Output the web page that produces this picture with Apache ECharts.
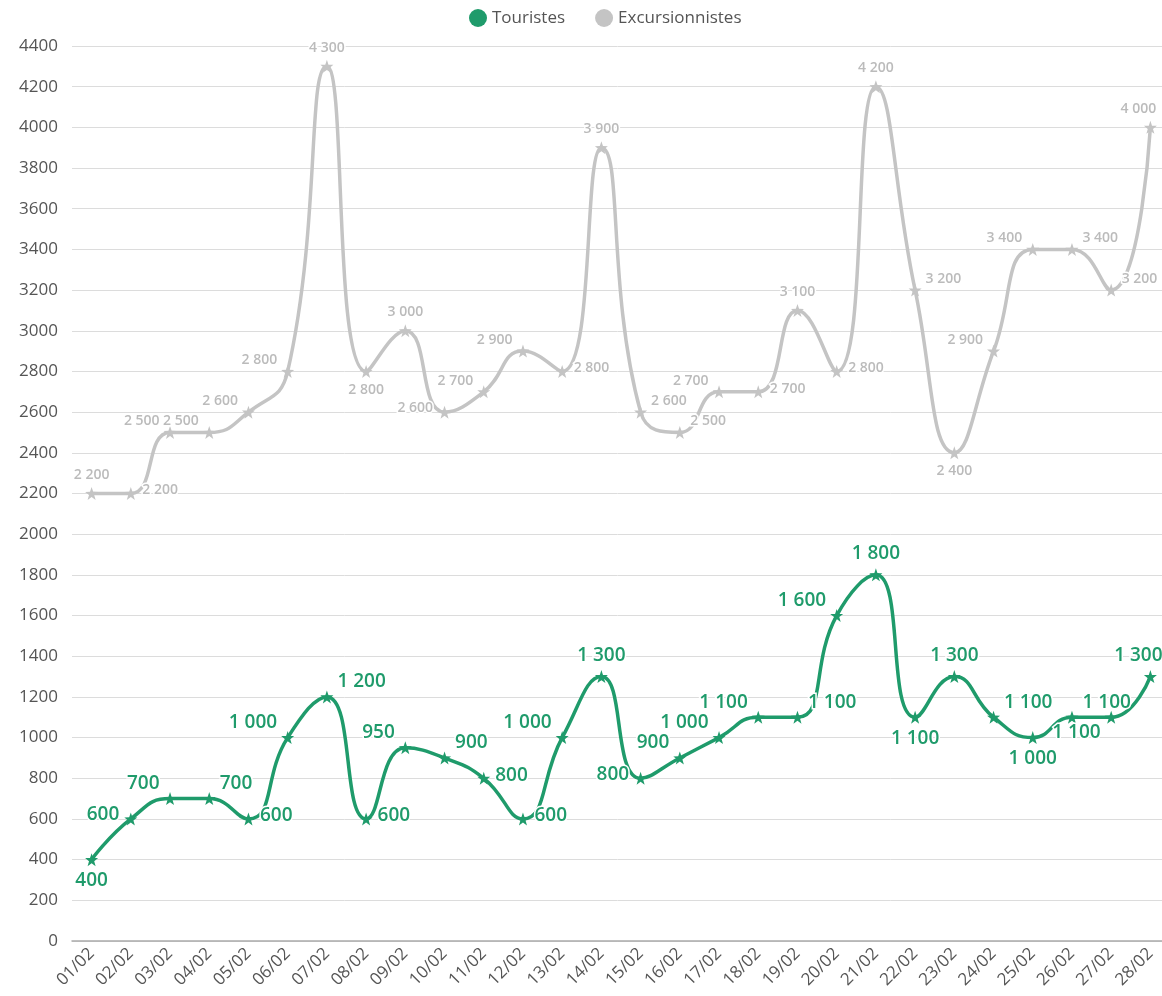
<!DOCTYPE html>
<html><head><meta charset="utf-8">
<script src="https://cdn.jsdelivr.net/npm/echarts@6/dist/echarts.min.js"></script>
<style>html,body{margin:0;padding:0;background:#fff}#c{width:1162px;height:996px}</style>
</head><body><div id="c"></div>
<script>
const categories = ['01/02','02/02','03/02','04/02','05/02','06/02','07/02','08/02','09/02','10/02','11/02','12/02','13/02','14/02','15/02','16/02','17/02','18/02','19/02','20/02','21/02','22/02','23/02','24/02','25/02','26/02','27/02','28/02'];
const touristes = [400,600,700,700,600,1000,1200,600,950,900,800,600,1000,1300,800,900,1000,1100,1100,1600,1800,1100,1300,1100,1000,1100,1100,1300];
const excursionnistes = [2200,2200,2500,2500,2600,2800,4300,2800,3000,2600,2700,2900,2800,3900,2600,2500,2700,2700,3100,2800,4200,3200,2400,2900,3400,3400,3200,4000];
const yTicks = {min:0, max:4400, interval:200};

// label placement keywords (style only); 'te' = top, kept inside the right edge
const touristesLabelPlace = ['b','l','tl','tr','r','tl','tr','r','tl','tr','r','r','tl','t','l','tl','tl','tl','tr','tl','t','b','t','tr','b','tr','bl','te'];
const excursLabelPlace = ['t','r','tl','tl','tl','tl','t','b','t','l','tl','tl','r','t','tr','tr','tl','r','t','r','t','tr','b','tl','tl','tr','tr','te'];

const GREEN = '#1f9b6b';
const GRAY = '#c4c4c4';
const FONT = 'Open Sans';

function fmt(v){ return String(v).replace(/\B(?=(\d{3})+(?!\d))/g, ' '); }
function placeLabel(p, dy){
  switch(p){
    case 't': return {position:'top', distance:5};
    case 'te': return {position:'top', distance:5, offset:[-12,0]};
    case 'b': return {position:'bottom', distance:5};
    case 'l': return {position:'left', distance:5, offset:[0,-4]};
    case 'r': return {position:'right', distance:5, offset:[0,-3]};
    case 'tl': return {position:'left', distance:4, offset:[0,-dy]};
    case 'tr': return {position:'right', distance:4, offset:[0,-dy]};
    case 'bl': return {position:'left', distance:4, offset:[0,dy]};
  }
  return {position:'top'};
}
function build(vals, places, dy){
  return vals.map((v,i)=>({value:v, label:placeLabel(places[i], dy)}));
}
const STAR = 'path://M0,-10 L2.35,-3.24 L9.51,-3.09 L3.8,1.24 L5.88,8.09 L0,4 L-5.88,8.09 L-3.8,1.24 L-9.51,-3.09 L-2.35,-3.24 Z';

const chart = echarts.init(document.getElementById('c'), null, {renderer:'canvas'});
chart.setOption({
  animation:false,
  textStyle:{fontFamily:FONT},
  legend:{
    top:4, left:464, icon:'circle', itemWidth:18, itemHeight:18, itemGap:30,
    textStyle:{fontSize:17, color:'#555', fontFamily:FONT, fontWeight:500},
    data:['Touristes','Excursionnistes']
  },
  grid:{left:72, right:-8, top:46, bottom:55, containLabel:false, outerBoundsMode:'none'},
  xAxis:{
    type:'category', data:categories, boundaryGap:true,
    axisLine:{show:true, lineStyle:{color:'#aaa', width:1.5}},
    axisTick:{show:false},
    axisLabel:{rotate:45, fontSize:17, color:'#555', fontFamily:FONT, fontWeight:500, margin:10, interval:0}
  },
  yAxis:{
    type:'value', min:yTicks.min, max:yTicks.max, interval:yTicks.interval,
    axisLine:{show:false}, axisTick:{show:false},
    axisLabel:{fontSize:17, color:'#555', fontFamily:FONT, fontWeight:500, margin:14, formatter:v=>String(v)},
    splitLine:{lineStyle:{color:'#dcdcdc', width:1}}
  },
  series:[
    {
      name:'Excursionnistes', type:'line', smooth:0.5, data:build(excursionnistes, excursLabelPlace, 11),
      symbol:STAR, symbolSize:13, itemStyle:{color:GRAY}, lineStyle:{color:GRAY, width:3.5},
      label:{show:true, fontSize:14, color:'#bbbbbb', fontFamily:FONT, fontWeight:600,
        textBorderColor:'#fff', textBorderWidth:3, formatter:p=>fmt(p.value)},
      z:2
    },
    {
      name:'Touristes', type:'line', smooth:0.5, data:build(touristes, touristesLabelPlace, 15),
      symbol:STAR, symbolSize:13, itemStyle:{color:GREEN}, lineStyle:{color:GREEN, width:3.5},
      label:{show:true, fontSize:19, color:GREEN, fontFamily:FONT, fontWeight:600,
        textBorderColor:'#fff', textBorderWidth:3, formatter:p=>fmt(p.value)},
      z:3
    }
  ]
});
</script></body></html>
